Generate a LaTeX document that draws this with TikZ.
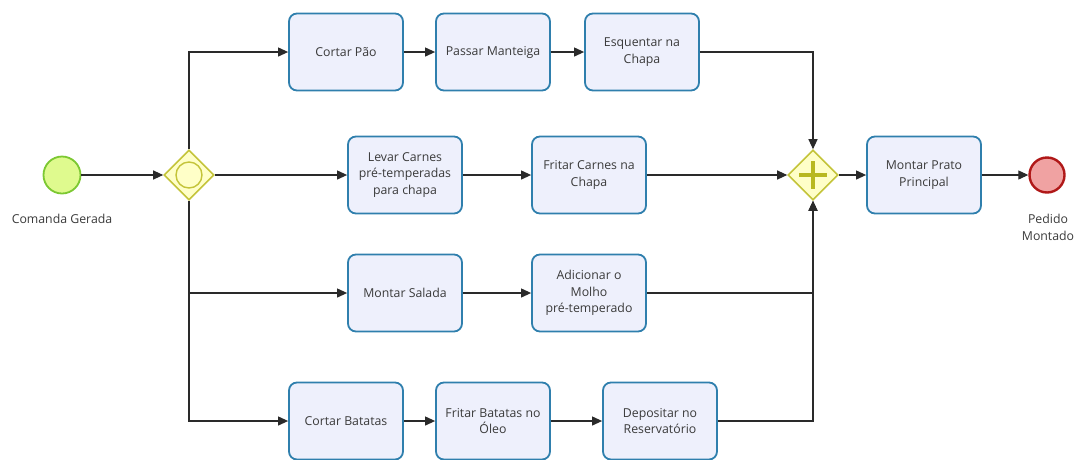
\documentclass[tikz,border=0pt]{standalone}
\usepackage{fontspec}
\setmainfont{Open Sans}
\usetikzlibrary{arrows.meta,shapes.geometric,positioning,calc}
\definecolor{taskfill}{HTML}{EEF0FC}
\definecolor{taskline}{HTML}{2F7FAD}
\definecolor{gwfill}{HTML}{FFFFC8}
\definecolor{gwline}{HTML}{C4C43A}
\definecolor{plusc}{HTML}{B8B820}
\definecolor{startfill}{HTML}{DFFA8E}
\definecolor{startline}{HTML}{7CC832}
\definecolor{endfill}{HTML}{F0A2A2}
\definecolor{endline}{HTML}{B01818}
\definecolor{txt}{HTML}{3A3A3A}
\definecolor{flow}{HTML}{2A2A2A}
\tikzset{
  task/.style={draw=taskline, fill=taskfill, line width=1.8pt, rounded corners=8pt,
    minimum width=114pt, minimum height=77pt, align=center, text=txt,
    font=\fontsize{12.3}{16.5}\selectfont},
  gateway/.style={draw=gwline, fill=gwfill, line width=1.6pt, diamond,
    minimum width=50pt, minimum height=50pt, inner sep=0pt},
  evstart/.style={circle, draw=startline, fill=startfill, line width=1.8pt, minimum size=37pt, inner sep=0pt},
  evend/.style={circle, draw=endline, fill=endfill, line width=2.4pt, minimum size=35pt, inner sep=0pt},
  lbl/.style={text=txt, align=center, font=\fontsize{12.3}{17}\selectfont},
  flowline/.style={draw=flow, line width=1.1pt, -{Triangle[length=10pt,width=9pt]}}
}
\begin{document}
\begin{tikzpicture}[x=1pt,y=-1pt]
\useasboundingbox (0,0) rectangle (1074,459);

% events and gateways
\node[evstart] (start) at (62,175) {};
\node[lbl] (startlbl) at (62,219) {Comanda Gerada};
\node[gateway] (split) at (189,175) {};
\node[circle, draw=gwline, fill=gwfill, line width=1.4pt, minimum size=26pt, inner sep=0pt] (splitring) at (split) {};
\node[gateway] (join) at (813,175) {};
\draw[plusc, line width=4.5pt] ($(join)+(-14,0)$) -- ($(join)+(14,0)$) ($(join)+(0,-14)$) -- ($(join)+(0,14)$);
\node[evend] (finish) at (1047,175) {};
\node[lbl] (finishlbl) at (1048,227) {Pedido\\Montado};

% tasks
\node[task] (t1) at (346,52) {Cortar Pão};
\node[task] (t2) at (493,52) {Passar Manteiga};
\node[task] (t3) at (642,52) {Esquentar na\\Chapa};
\node[task] (c1) at (405,175) {Levar Carnes\\pré-temperadas\\para chapa};
\node[task] (c2) at (589,175) {Fritar Carnes na\\Chapa};
\node[task] (s1) at (405,293) {Montar Salada};
\node[task] (s2) at (589,293) {Adicionar o\\Molho\\pré-temperado};
\node[task] (b1) at (346,421) {Cortar Batatas};
\node[task] (b2) at (493,421) {Fritar Batatas no\\Óleo};
\node[task] (b3) at (660,421) {Depositar no\\Reservatório};
\node[task] (main) at (924,175) {Montar Prato\\Principal};

% sequence flows
\draw[flowline] (start) -- (split);
\draw[flowline] (split.north) |- (t1.west);
\draw[flowline] (split.east) -- (c1.west);
\draw[flowline] (split.south) |- (s1.west);
\draw[flowline] (split.south) |- (b1.west);
\draw[flowline] (t1) -- (t2);
\draw[flowline] (t2) -- (t3);
\draw[flowline] (c1) -- (c2);
\draw[flowline] (s1) -- (s2);
\draw[flowline] (b1) -- (b2);
\draw[flowline] (b2) -- (b3);
\draw[flowline] (t3.east) -| (join.north);
\draw[flowline] (c2.east) -- (join.west);
\draw[flowline] (s2.east) -| (join.south);
\draw[flowline] (b3.east) -| (join.south);
\draw[flowline] (join.east) -- (main.west);
\draw[flowline] (main.east) -- (finish.west);
\end{tikzpicture}
\end{document}
